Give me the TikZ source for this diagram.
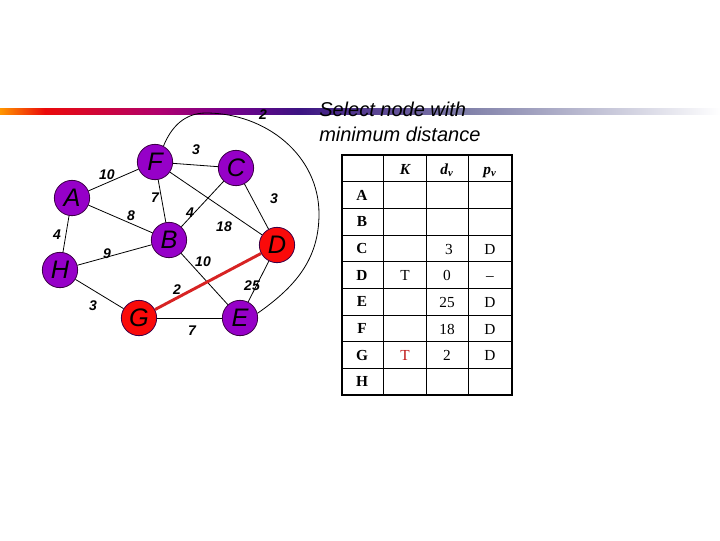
\documentclass[tikz,border=0pt]{standalone}
\usepackage{fontspec}
\setmainfont{Liberation Sans}
\newfontfamily\tabfont{Liberation Serif}
\usetikzlibrary{positioning}

\definecolor{vertpurple}{RGB}{150,0,200}
\definecolor{vertred}{RGB}{250,10,10}
\definecolor{vertline}{RGB}{60,0,70}
\definecolor{pathred}{RGB}{215,35,35}
\definecolor{markred}{RGB}{190,20,20}
\definecolor{barA}{RGB}{255,150,0}
\definecolor{barB}{RGB}{235,10,10}
\definecolor{barC}{RGB}{175,0,110}
\definecolor{barD}{RGB}{115,0,140}
\definecolor{barE}{RGB}{60,20,130}
\definecolor{barF}{RGB}{130,130,170}

\tikzset{
  vert/.style={circle, draw=vertline, line width=0.6pt, fill=vertpurple, minimum size=26.5pt,
    inner sep=0pt, font=\fontsize{19}{19}\selectfont\itshape},
  vertsel/.style={vert, fill=vertred},
  edge/.style={black, line width=0.6pt},
  wlabel/.style={font=\fontsize{10.5}{10.5}\selectfont\bfseries\itshape, inner sep=0pt},
  cell/.style={font=\tabfont\fontsize{11.5}{11.5}\selectfont, inner sep=0pt,
    text height=7.6pt, text depth=0pt},
  headcell/.style={cell, font=\tabfont\fontsize{11.5}{11.5}\selectfont\bfseries\itshape},
  rowcell/.style={cell, font=\tabfont\fontsize{11.5}{11.5}\selectfont\bfseries},
}

\begin{document}
\begin{tikzpicture}[x=0.75pt, y=-0.75pt]
\useasboundingbox (0,0) rectangle (720,540);

% title bar
\shade[left color=barA, right color=barB] (0,108) rectangle (45,114.5);
\shade[left color=barB, right color=barC] (45,108) rectangle (160,114.5);
\shade[left color=barC, right color=barD] (160,108) rectangle (230,114.5);
\shade[left color=barD, right color=barE] (230,108) rectangle (300,114.5);
\shade[left color=barE, right color=barF] (300,108) rectangle (470,114.5);
\shade[left color=barF, right color=white] (470,108) rectangle (720,114.5);

\node[anchor=north west, inner sep=0pt, align=left, font=\fontsize{15}{18.7}\selectfont\itshape]
  (title) at (319,102) {Select node with\\minimum distance};

% vertices
\node[vert] (F) at (155,162) {F};
\node[vert] (C) at (236,168) {C};
\node[vert] (A) at (72,198) {A};
\node[vert] (B) at (169,240) {B};
\node[vertsel] (D) at (277,245) {D};
\node[vert] (H) at (60,270) {H};
\node[vertsel] (G) at (139,318) {G};
\node[vert] (E) at (240,318) {E};

% edges
\draw[edge] (F) -- (C);
\draw[edge] (F) -- (A);
\draw[edge] (F) -- (B);
\draw[edge] (F) -- (D);
\draw[edge] (C) -- (B);
\draw[edge] (C) -- (D);
\draw[edge] (A) -- (B);
\draw[edge] (A) -- (H);
\draw[edge] (H) -- (B);
\draw[edge] (H) -- (G);
\draw[edge] (B) -- (E);
\draw[edge] (D) -- (E);
\draw[edge] (G) -- (E);
\draw[pathred, line width=2.2pt] (G) -- (D);
\coordinate (arcTop) at (206,113);
\coordinate (arcRight) at (319,214);
\draw[edge] (F.62) to[out=68,in=180] (arcTop) to[out=0,in=90] (arcRight)
  to[out=-90,in=35] (E.15);

% weights
\foreach \w/\x/\y [count=\n] in {2/263/115, 3/196/150, 10/107/175, 7/155/198, 8/131/216,
    4/190/213, 3/274/199, 18/224/227, 4/57/235, 9/107/254, 10/203/262,
    25/252/286, 2/177/290, 3/93/306, 7/192/331}
  \node[wlabel] (w\n) at (\x,\y) {\w};

% table
\foreach \i in {1,...,8}
  \draw[line width=0.75pt] (342,155+\i*26.67) -- (512,155+\i*26.67);
\foreach \x in {383,426,468}
  \draw[line width=0.75pt] (\x,155) -- (\x,395);
\draw[line width=1.6pt] (342,155) rectangle (512,395);

\node[headcell] (hK) at (405,169) {K};
\node[headcell] (hd) at (447,169) {d\textsubscript{v}};
\node[headcell] (hp) at (490,169) {p\textsubscript{v}};

\foreach \v [count=\i] in {A,B,C,D,E,F,G,H}
  \node[rowcell] (r\v) at (362,155+\i*26.67+13.33) {\v};

\node[cell] (dC) at (449,249) {3};
\node[cell] (pC) at (490,249) {D};
\node[cell] (kD) at (405,275.5) {T};
\node[cell] (dD) at (447,275.5) {0};
\node[cell] (pD) at (490,275.5) {\textendash};
\node[cell] (dE) at (447,302) {25};
\node[cell] (pE) at (490,302) {D};
\node[cell] (dF) at (447,329) {18};
\node[cell] (pF) at (490,329) {D};
\node[cell, text=markred] (kG) at (405,355.5) {T};
\node[cell] (dG) at (447,355.5) {2};
\node[cell] (pG) at (490,355.5) {D};
\end{tikzpicture}
\end{document}
